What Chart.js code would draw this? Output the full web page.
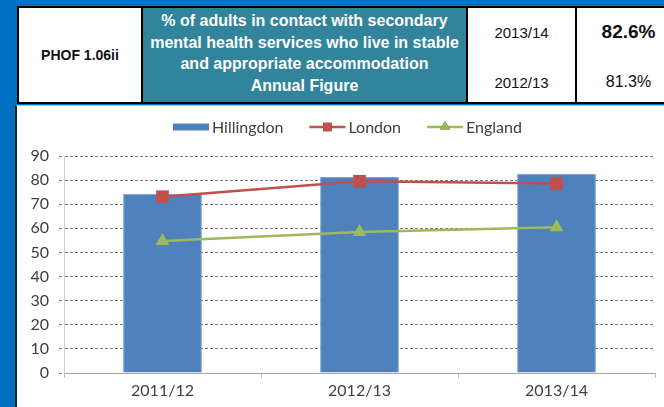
<!DOCTYPE html>
<html>
<head>
<meta charset="utf-8">
<script src="https://cdn.jsdelivr.net/npm/chart.js@4.4.0/dist/chart.umd.min.js"></script>
<style>
  html, body { margin: 0; padding: 0; }
  body { width: 664px; height: 407px; background: #0070C0; position: relative; overflow: hidden; font-family: "Liberation Sans", Arial, sans-serif; }
  .cell { position: absolute; top: 6px; height: 98px; box-sizing: border-box; border: 2px solid #000; background: #fff; }
  .c1 { left: 17px; width: 126px; display: flex; align-items: center; justify-content: center; font-weight: bold; font-size: 14px; color: #111; }
  .c2 { left: 141px; width: 327px; background: #31849B; color: #fff; font-weight: bold; font-size: 16px; line-height: 21.5px; text-align: center; padding-top: 2px; }
  .c3 { left: 466px; width: 111px; }
  .c4 { left: 575px; width: 120px; }
  .t { position: absolute; left: 0; right: 0; text-align: center; color: #111; }
  .panel { position: absolute; left: 15px; top: 105px; width: 700px; height: 320px; background: #fff; border-left: 2px solid #222; border-top: 1px solid #bbb; }
  .wrap { position: absolute; left: 17px; top: 107px; width: 647px; height: 300px; }
</style>
</head>
<body>
<div class="cell c1">PHOF 1.06ii</div>
<div class="cell c2">% of adults in contact with secondary<br>mental health services who live in stable<br>and appropriate accommodation<br>Annual Figure</div>
<div class="cell c3">
  <div class="t" style="top:16px;font-size:15px;">2013/14</div>
  <div class="t" style="top:66px;font-size:15px;">2012/13</div>
</div>
<div class="cell c4">
  <div class="t" style="top:13px;font-size:19px;font-weight:bold;left:-13px;">82.6%</div>
  <div class="t" style="top:65px;font-size:16px;left:-13px;">81.3%</div>
</div>
<div class="panel"></div>
<div class="wrap"><canvas id="chart"></canvas></div>

<script>
// values
const years = ['2011/12', '2012/13', '2013/14'];
const hillingdon = [74.3, 81.3, 82.6];
const london = [73.1, 79.5, 78.6];
const england = [54.7, 58.5, 60.5];
const yTicks = [0, 10, 20, 30, 40, 50, 60, 70, 80, 90];

const textColor = '#404040';
const tickFont = { family: 'Lato', size: 16 };

// legend drawn like the Excel one: bar swatch / line with marker
const excelLegend = {
  id: 'excelLegend',
  afterDraw(chart) {
    const ctx = chart.ctx;
    const y = 20;
    let x = 156;
    ctx.save();
    ctx.font = "16px Lato";
    ctx.textBaseline = 'middle';
    chart.data.datasets.forEach((ds) => {
      if (ds.type === 'bar') {
        ctx.fillStyle = ds.backgroundColor;
        ctx.fillRect(x, y - 3.5, 36, 7);
      } else {
        ctx.strokeStyle = ds.borderColor;
        ctx.lineWidth = 2.5;
        ctx.beginPath();
        ctx.moveTo(x, y);
        ctx.lineTo(x + 36, y);
        ctx.stroke();
        Chart.helpers.drawPoint(ctx, {
          pointStyle: ds.pointStyle, radius: 6, borderWidth: 0
        }, x + 18, y);
        ctx.fillStyle = ds.pointBackgroundColor;
        ctx.fill();
      }
      x += 39;
      ctx.fillStyle = textColor;
      ctx.fillText(ds.label, x, y + 1);
      x += ctx.measureText(ds.label).width + 26;
    });
    ctx.restore();
  }
};

new Chart(document.getElementById('chart'), {
  data: {
    labels: years,
    datasets: [
      {
        type: 'bar',
        label: 'Hillingdon',
        data: hillingdon,
        backgroundColor: '#4F81BD',
        borderColor: '#7EA3D0',
        borderWidth: 1,
        categoryPercentage: 1,
        barPercentage: 0.4,
        order: 2
      },
      {
        type: 'line',
        label: 'London',
        data: london,
        borderColor: '#C0504D',
        backgroundColor: '#C0504D',
        pointBackgroundColor: '#C0504D',
        pointBorderWidth: 0,
        borderWidth: 2.5,
        pointStyle: 'rect',
        pointRadius: 9,
        tension: 0,
        order: 0
      },
      {
        type: 'line',
        label: 'England',
        data: england,
        borderColor: '#9BBB59',
        backgroundColor: '#9BBB59',
        pointBackgroundColor: '#9BBB59',
        pointBorderWidth: 0,
        borderWidth: 2.5,
        pointStyle: 'triangle',
        pointRadius: 8,
        tension: 0,
        order: 1
      }
    ]
  },
  options: {
    responsive: true,
    maintainAspectRatio: false,
    animation: false,
    layout: { padding: { top: 49, right: 5, left: 0, bottom: 0 } },
    plugins: {
      legend: { display: false },
      tooltip: { enabled: false }
    },
    scales: {
      x: {
        offset: true,
        grid: { offset: true, drawOnChartArea: false, drawTicks: true, tickLength: 5, color: '#BFBFBF' },
        border: { color: '#A6A6A6', width: 1 },
        ticks: { color: textColor, font: tickFont, padding: 3 },
        afterFit: (s) => { s.height = 34; }
      },
      y: {
        min: 0,
        max: 90,
        afterBuildTicks: (s) => { s.ticks = yTicks.map(v => ({ value: v })); },
        grid: { color: '#7A7A7A', lineWidth: 1, tickLength: 5, tickBorderDash: [3, 2] },
        border: { color: '#D0D0D0', width: 1, dash: [3, 2] },
        ticks: { color: textColor, font: tickFont, padding: 10 },
        afterFit: (s) => { s.width = 47; }
      }
    }
  },
  plugins: [excelLegend]
});
</script>
</body>
</html>
